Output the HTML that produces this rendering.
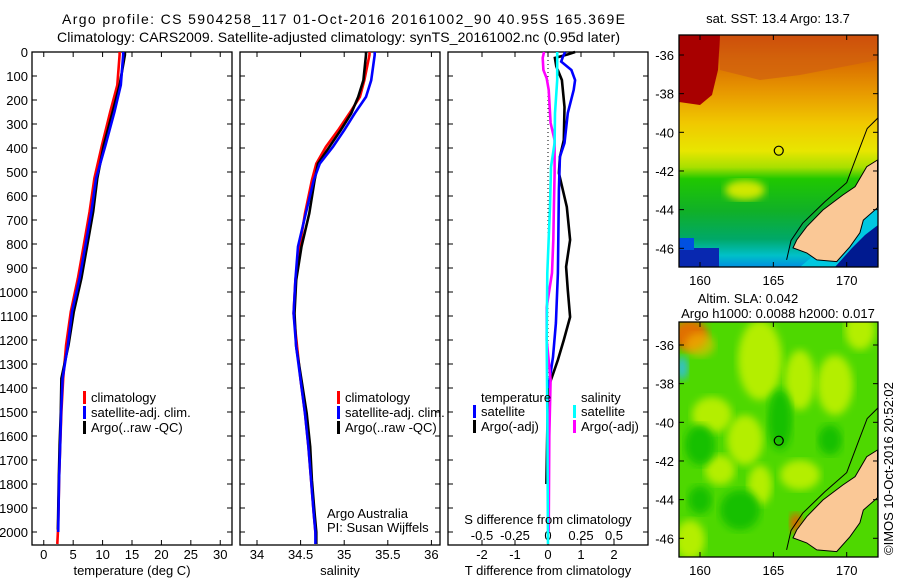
<!DOCTYPE html>
<html><head><meta charset="utf-8"><style>
html,body{margin:0;padding:0;background:#fff;}
svg{display:block;font-family:"Liberation Sans",sans-serif;}
</style></head><body>
<svg id="fig" width="900" height="580" viewBox="0 0 900 580" xmlns="http://www.w3.org/2000/svg">
<defs>
<linearGradient id="sstg" x1="0" y1="0" x2="0" y2="1">
<stop offset="0" stop-color="#c82800"/><stop offset="0.1" stop-color="#d86800"/>
<stop offset="0.25" stop-color="#e89a00"/><stop offset="0.38" stop-color="#f0c800"/>
<stop offset="0.5" stop-color="#e8e600"/><stop offset="0.57" stop-color="#a8e000"/>
<stop offset="0.62" stop-color="#20c800"/><stop offset="0.76" stop-color="#10b028"/>
<stop offset="0.88" stop-color="#00a868"/><stop offset="0.95" stop-color="#00c0c8"/>
<stop offset="1" stop-color="#0090e0"/></linearGradient>
<clipPath id="c1"><rect x="679" y="35" width="199" height="232"/></clipPath>
<clipPath id="c2"><rect x="679" y="322" width="199" height="235"/></clipPath>
<filter id="blur"><feGaussianBlur stdDeviation="4"/></filter>
</defs>
<g font-size="14" fill="#000">
<text x="62" y="24" textLength="563" lengthAdjust="spacing">Argo profile: CS 5904258_117 01-Oct-2016 20161002_90 40.95S 165.369E</text>
<text x="57" y="42" textLength="563" lengthAdjust="spacing">Climatology: CARS2009. Satellite-adjusted climatology: synTS_20161002.nc (0.95d later)</text>
</g>
<g id="panels"></g>
<g id="maps"></g>
</svg>
<script>
// ---- Panel 1: temperature ----
const climTDepth=[0,12,138,250,388,526,665,804,943,1082,1221,1360,1499,1638,1777,1916,2000,2050];
const climT=[12.9,12.9,12.5,11.3,9.9,8.6,7.8,6.8,5.8,4.6,3.8,3.3,3.0,2.8,2.6,2.5,2.4,2.3];
const satTDepth=[0,12,138,250,388,526,665,804,943,1082,1221,1360,1499,1638,1777,1916,2000];
const satT=[13.5,13.5,13.1,12.0,10.5,8.9,8.1,7.1,6.1,4.8,4.1,3.2,2.95,2.8,2.6,2.5,2.45];
const argoTDepth=[0,12,138,250,388,526,665,804,943,1082,1221,1360,1499,1638,1777,1916,1990];
const argoT=[13.8,13.8,12.9,11.7,10.2,9.1,8.4,7.4,6.4,5.1,4.2,3.0,2.9,2.7,2.55,2.45,2.4];
const tTicks=[0,5,10,15,20,25,30];
// ---- Panel 2: salinity ----
const sDepth=[0,12,118,187,256,326,395,465,534,672,811,950,1089,1228,1367,1506,1645,1784,1922,2000,2050];
const climS=[35.29,35.29,35.23,35.18,35.06,34.93,34.79,34.68,34.63,34.55,34.49,34.44,34.42,34.46,34.5,34.55,34.59,34.62,34.65,34.67,34.68];
const satS=[35.35,35.35,35.31,35.25,35.12,35.0,34.87,34.72,34.65,34.56,34.47,34.44,34.42,34.45,34.5,34.55,34.59,34.62,34.65,34.67,34.67];
const argoS=[35.25,35.25,35.22,35.16,35.08,34.96,34.83,34.70,34.66,34.60,34.51,34.45,34.43,34.45,34.51,34.57,34.61,34.63,34.66,34.68,34.68];
const sTicks=[34,34.5,35,35.5,36];
// ---- Panel 3: differences ----
const argoTdDepth=[0,10,25,60,117,229,367,437,505,645,783,895,992,1104,1200,1283,1354,1400,1800];
const argoTd=[0.82,0.6,0.21,0.25,0.42,0.5,0.48,0.36,0.33,0.57,0.67,0.55,0.6,0.67,0.48,0.30,0.12,0.0,-0.05];
const satTdDepth=[0,20,40,75,117,158,254,379,437,575,921,1129,1271,1367,1400];
const satTd=[0.52,0.45,0.4,0.71,0.82,0.78,0.6,0.5,0.36,0.33,0.3,0.24,0.15,0.05,0.0];
const satSdDepth=[0,117,254,379,479,645,921,1200,1500,2050];
const satSd=[0.07,0.07,0.053,0.05,0.023,0.015,-0.005,-0.01,-0.005,0.0];
const argoSdDepth=[0,25,75,110,158,296,367,505,645,783,921,1063,1200,1367,1600,2000];
const argoSd=[-0.03,-0.04,-0.035,-0.01,0.005,0.02,0.05,0.05,0.045,0.04,0.03,-0.01,-0.01,0.02,0.01,0.005];
const tdTicks=[-2,-1,0,1,2];
const sdTicks=[-0.5,-0.25,0,0.25,0.5];
const sdTickLabels=["-0.5","-0.25","0","0.25","0.5"];
const depthTicks=[0,100,200,300,400,500,600,700,800,900,1000,1100,1200,1300,1400,1500,1600,1700,1800,1900,2000];
// ---- Maps ----
const latTicks=[-36,-38,-40,-42,-44,-46];
const lonTicks=[160,165,170];
const argoLon=165.369, argoLat=-40.95;
const landLon=[172.1,171.36,170.57,169.75,168.38,167.27,166.59,166.34,167.27,167.96,169.32,170.22,170.9,171.13,172.1];
const landLat=[-41.43,-41.78,-42.81,-43.24,-44.02,-44.88,-45.57,-45.98,-46.24,-46.6,-46.69,-45.92,-45.2,-44.54,-43.9];
const shelfLon=[172.2,171.4,170.8,170.0,168.5,167.0,166.2,165.9];
const shelfLat=[-39.2,-39.8,-41.0,-42.6,-43.6,-44.7,-45.6,-46.6];

const NS="http://www.w3.org/2000/svg";
function el(tag,attrs,parent){const e=document.createElementNS(NS,tag);for(const k in attrs)e.setAttribute(k,attrs[k]);parent.appendChild(e);return e;}
const panels=document.getElementById('panels');
const pTop=52, pBot=545;
const yD=d=>52+d*0.24;

function frame(x0,x1,name){
  const g=el('g',{},panels);
  
  
  const r=el('rect',{x:x0,y:pTop,width:x1-x0,height:pBot-pTop,fill:'none',stroke:'#000','stroke-width':1.3},g);
  
  
  depthTicks.forEach(d=>{const y=yD(d);
    el('line',{x1:x0,y1:y,x2:x0+5,y2:y,stroke:'#000'},g);
    el('line',{x1:x1,y1:y,x2:x1-5,y2:y,stroke:'#000'},g);});
  return g;
}
function series(g,xs,ds,xf,color,name,w){
  const pts=xs.map((v,i)=>xf(v).toFixed(1)+','+yD(ds[i]).toFixed(1)).join(' ');
  const p=el('polyline',{points:pts,fill:'none',stroke:color,'stroke-width':w||2.6},g);
  
  
}
function legend(g,x,y,items){
  items.forEach((it,i)=>{
    const yy=y+i*15;
    el('rect',{x:x,y:yy-11,width:3,height:13,fill:it[0]},g);
    const t=el('text',{x:x+8,y:yy,'font-size':13},g);
    t.textContent=it[1];
    
    
  });
}
function xlabel(g,x,y,s,size,name){const t=el('text',{x:x,y:y,'text-anchor':'middle','font-size':size||13},g);t.textContent=s;
  
  return t;}

// Panel 1
{
const x0=32,x1=232; const xT=v=>x0+(v+2)*(x1-x0)/34;
const g=frame(x0,x1,'temperature-panel');
tTicks.forEach(v=>{const x=xT(v);el('line',{x1:x,y1:pTop,x2:x,y2:pTop+5,stroke:'#000'},g);el('line',{x1:x,y1:pBot,x2:x,y2:pBot-5,stroke:'#000'},g);xlabel(g,x,559,String(v),13,'x-tick-label');});
depthTicks.forEach(d=>{const t=el('text',{x:28,y:yD(d)+5,'text-anchor':'end','font-size':13},g);t.textContent=d;
  
  });
series(g,climT,climTDepth,xT,'#ff0000','climatology-temperature-line');
series(g,argoT,argoTDepth,xT,'#000000','argo-temperature-line');
series(g,satT,satTDepth,xT,'#0000ff','satellite-temperature-line');
legend(g,83,402,[['#ff0000','climatology'],['#0000ff','satellite-adj. clim.'],['#000','Argo(..raw -QC)']]);
xlabel(g,132,575,'temperature (deg C)',13,'x-axis-title');
}
// Panel 2
{
const x0=240,x1=440; const xS=v=>257+(v-34)*87.2;
const g=frame(x0,x1,'salinity-panel');
sTicks.forEach(v=>{const x=xS(v);el('line',{x1:x,y1:pTop,x2:x,y2:pTop+5,stroke:'#000'},g);el('line',{x1:x,y1:pBot,x2:x,y2:pBot-5,stroke:'#000'},g);xlabel(g,x,559,String(v),13,'x-tick-label');});
series(g,climS,sDepth,xS,'#ff0000','climatology-salinity-line');
series(g,argoS,sDepth,xS,'#000000','argo-salinity-line');
series(g,satS,sDepth,xS,'#0000ff','satellite-salinity-line');
legend(g,337,402,[['#ff0000','climatology'],['#0000ff','satellite-adj. clim.'],['#000','Argo(..raw -QC)']]);
const a=el('text',{x:327,y:518,'font-size':13},g);a.textContent='Argo Australia';


const b=el('text',{x:327,y:532,'font-size':13},g);b.textContent='PI: Susan Wijffels';


xlabel(g,340,575,'salinity',13,'x-axis-title');
}
// Panel 3
{
const x0=448,x1=648; const xTd=v=>548+v*33; const xSd=v=>548+v*132;
const g=frame(x0,x1,'difference-panel');
el('line',{x1:548,y1:pTop,x2:548,y2:pBot,stroke:'#000','stroke-dasharray':'1,3'},g);
tdTicks.forEach(v=>{const x=xTd(v);el('line',{x1:x,y1:pTop,x2:x,y2:pTop+5,stroke:'#000'},g);el('line',{x1:x,y1:pBot,x2:x,y2:pBot-5,stroke:'#000'},g);xlabel(g,x,559,v<0?'-'+Math.abs(v):String(v),13,'x-tick-label');});
sdTicks.forEach((v,i)=>{xlabel(g,xSd(v),540,sdTickLabels[i],13,'s-tick-label');});
series(g,argoTd,argoTdDepth,xTd,'#000000','argo-temperature-difference-line');
series(g,satTd,satTdDepth,xTd,'#0000ff','satellite-temperature-difference-line');
series(g,argoSd,argoSdDepth,xSd,'#ff00ff','argo-salinity-difference-line');
series(g,satSd,satSdDepth,xSd,'#00ffff','satellite-salinity-difference-line');
const tt=el('text',{x:481,y:402,'font-size':13},g);tt.textContent='temperature';


const st=el('text',{x:581,y:402,'font-size':13},g);st.textContent='salinity';


legend(g,473,416,[['#0000ff','satellite'],['#000','Argo(-adj)']]);
legend(g,573,416,[['#00ffff','satellite'],['#ff00ff','Argo(-adj)']]);
xlabel(g,548,524,'S difference from climatology',13,'s-axis-title');
xlabel(g,548,575,'T difference from climatology',13,'x-axis-title');
}

// Maps
const maps=document.getElementById('maps');
function drawMap(cfg){
  const g=el('g',{},maps);
  
  
  const X=lon=>700+(lon-160)*14.67, Y=lat=>cfg.y36+(-36-lat)*19.33;
  const c=el('g',{'clip-path':'url(#'+cfg.clip+')'},g);
  cfg.fill(c,X,Y);
  const land=landLon.map((lo,i)=>X(lo).toFixed(1)+','+Y(landLat[i]).toFixed(1)).join(' ');
  const lp=el('polygon',{points:land,fill:'#fac896',stroke:'#000','stroke-width':1},c);
  
  
  el('polyline',{points:shelfLon.map((lo,i)=>X(lo).toFixed(1)+','+Y(shelfLat[i]).toFixed(1)).join(' '),fill:'none',stroke:'#000','stroke-width':1},c);
  el('rect',{x:679,y:cfg.top,width:199,height:cfg.h,fill:'none',stroke:'#000','stroke-width':1.3},g);
  const m=el('circle',{cx:X(argoLon),cy:Y(argoLat),r:4.5,fill:'none',stroke:'#000','stroke-width':1.2},g);
  
  
  latTicks.forEach(la=>{const y=Y(la);el('line',{x1:679,y1:y,x2:684,y2:y,stroke:'#000'},g);el('line',{x1:878,y1:y,x2:873,y2:y,stroke:'#000'},g);
    const t=el('text',{x:674,y:y+5,'text-anchor':'end','font-size':13},g);t.textContent=la;
    
    });
  lonTicks.forEach(lo=>{const x=X(lo);el('line',{x1:x,y1:cfg.top,x2:x,y2:cfg.top+5,stroke:'#000'},g);el('line',{x1:x,y1:cfg.top+cfg.h,x2:x,y2:cfg.top+cfg.h-5,stroke:'#000'},g);
    const t=el('text',{x:x,y:cfg.top+cfg.h+18,'text-anchor':'middle','font-size':13},g);t.textContent=lo;
    
    });
  cfg.titles.forEach(tl=>{const t=el('text',{x:tl[0],y:tl[1],'text-anchor':'middle','font-size':13},g);t.textContent=tl[2];
    
    });
}
drawMap({name:'sst-map',clip:'c1',top:35,h:232,y36:55,titles:[[778,23,'sat. SST: 13.4 Argo: 13.7']],fill:(c,X,Y)=>{
  el('rect',{x:679,y:35,width:199,height:232,fill:'url(#sstg)'},c);
  el('polygon',{points:'679,35 720,35 718,70 712,95 700,105 679,102',fill:'#a80000'},c);
  el('polygon',{points:'720,35 878,35 878,60 800,75 760,80 720,70',fill:'#d06010',opacity:0.7},c);
  el('ellipse',{cx:745,cy:190,rx:20,ry:10,fill:'#d0e800',filter:'url(#blur)'},c);
  el('rect',{x:679,y:248,width:40,height:19,fill:'#0828b0'},c);
  el('rect',{x:679,y:238,width:15,height:12,fill:'#0050e0'},c);
  el('polygon',{points:'878,205 878,267 800,267 820,250 850,235',fill:'#00c8e0'},c);
  el('polygon',{points:'878,225 878,267 835,267 852,248 865,235',fill:'#001a90'},c);
}});
drawMap({name:'sla-map',clip:'c2',top:322,h:235,y36:345,titles:[[748,303,'Altim. SLA: 0.042'],[778,318,'Argo h1000: 0.0088 h2000: 0.017']],fill:(c,X,Y)=>{
  el('rect',{x:679,y:322,width:199,height:235,fill:'#4ed800'},c);
  [[760,360,22,40],[800,380,15,30],[835,385,18,30],[712,415,20,18],[745,440,18,25],[720,470,15,15],[800,475,20,15],[760,485,12,20],[690,540,15,20],[860,330,15,20]].forEach(e=>{
    el('ellipse',{cx:e[0],cy:e[1],rx:e[2],ry:e[3],fill:'#b4ee00',filter:'url(#blur)'},c);});
  [[780,420,12,30],[700,445,15,20],[830,440,12,15],[740,510,20,20],[700,500,12,14]].forEach(e=>{
    el('ellipse',{cx:e[0],cy:e[1],rx:e[2],ry:e[3],fill:'#18c000',filter:'url(#blur)'},c);});
  el('ellipse',{cx:690,cy:335,rx:18,ry:16,fill:'#e07000',filter:'url(#blur)'},c);
  el('ellipse',{cx:700,cy:345,rx:15,ry:12,fill:'#f0c000',opacity:0.6,filter:'url(#blur)'},c);
  el('ellipse',{cx:682,cy:368,rx:6,ry:12,fill:'#30c0d0',filter:'url(#blur)'},c);
  el('ellipse',{cx:796,cy:523,rx:6,ry:10,fill:'#e06000',filter:'url(#blur)'},c);
}});
const cp=el('text',{x:893,y:555,'font-size':13,transform:'rotate(-90 893 555)'},maps);
cp.textContent='©IMOS 10-Oct-2016 20:52:02';


</script>
</body></html>
